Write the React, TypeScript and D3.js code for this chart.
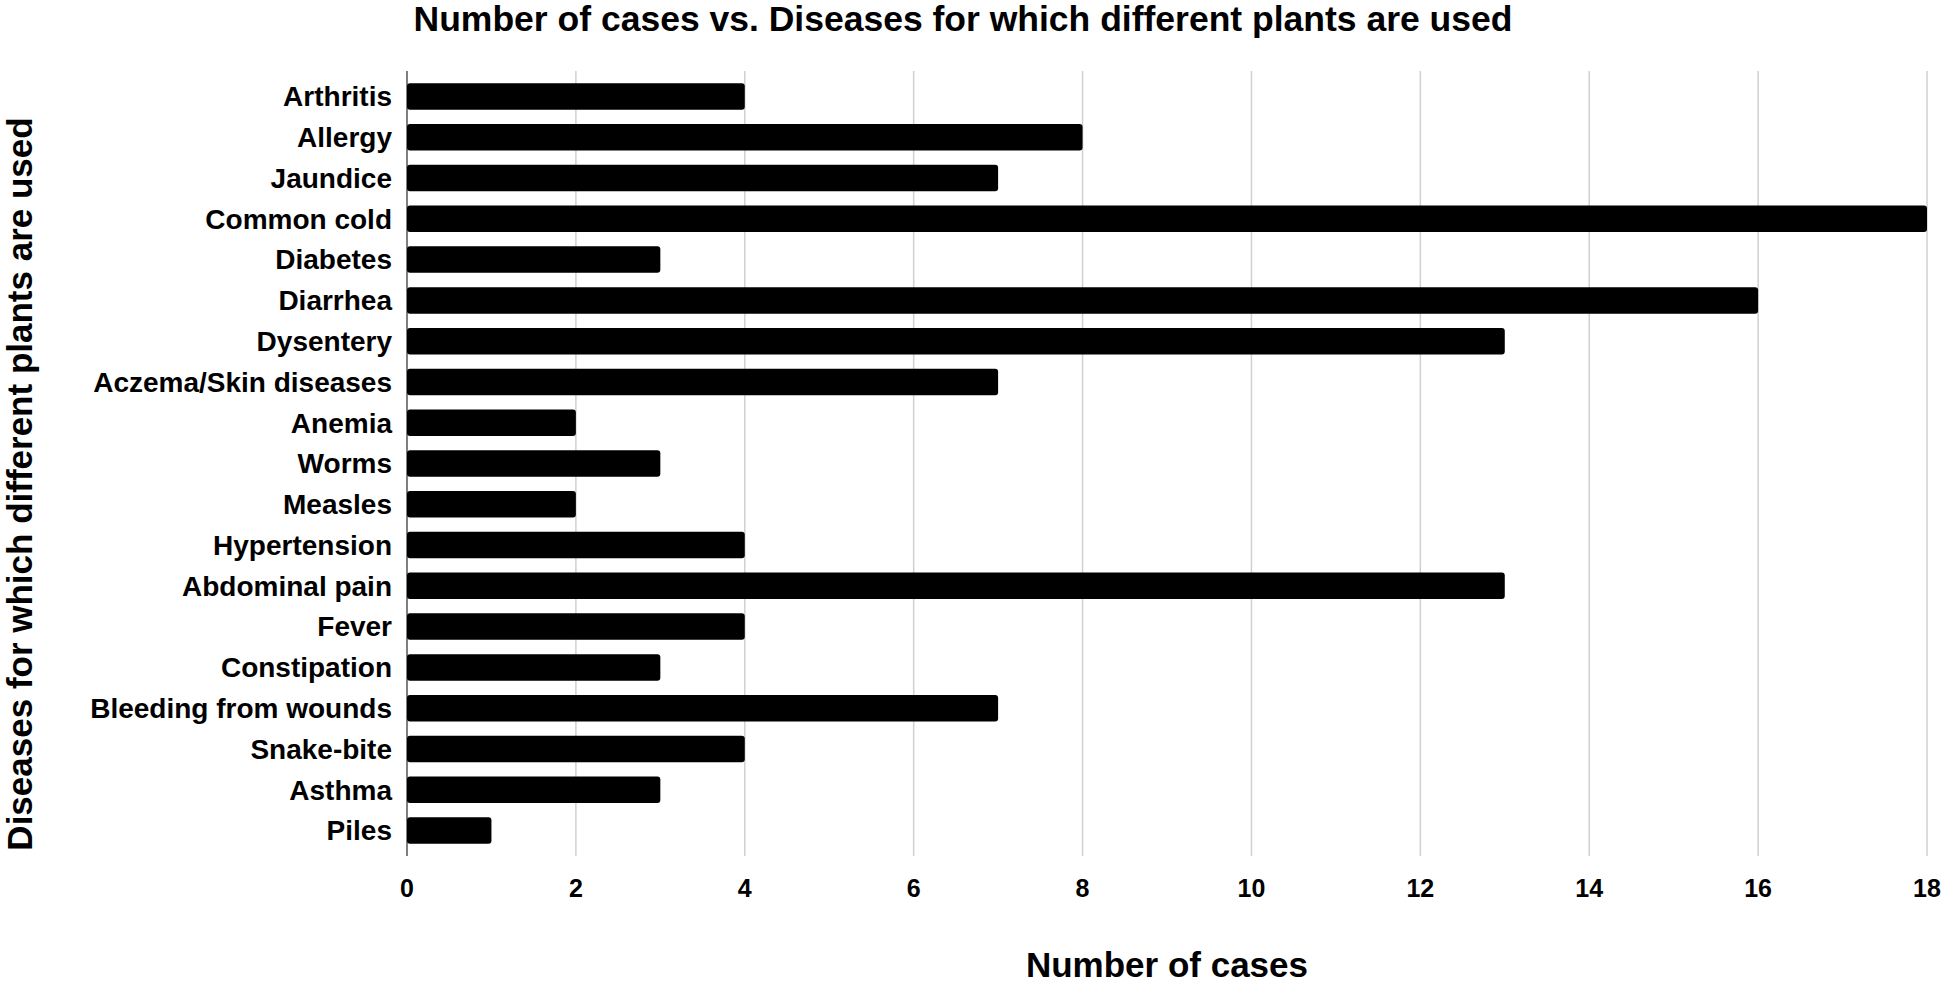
import React from 'react';
import * as d3 from 'd3';

const diseases = [
  'Arthritis', 'Allergy', 'Jaundice', 'Common cold', 'Diabetes', 'Diarrhea', 'Dysentery',
  'Aczema/Skin diseases', 'Anemia', 'Worms', 'Measles', 'Hypertension', 'Abdominal pain',
  'Fever', 'Constipation', 'Bleeding from wounds', 'Snake-bite', 'Asthma', 'Piles',
];
const cases = [4, 8, 7, 18, 3, 16, 13, 7, 2, 3, 2, 4, 13, 4, 3, 7, 4, 3, 1];
const xTicks = [0, 2, 4, 6, 8, 10, 12, 14, 16, 18];

const title = 'Number of cases vs. Diseases for which different plants are used';
const xTitle = 'Number of cases';
const yTitle = 'Diseases for which different plants are used';

const W = 1946;
const H = 984;
const margin = { top: 71, right: 19, bottom: 128, left: 407 };
const font = '"Liberation Sans", Arial, sans-serif';

export default function App() {
  const x = d3.scaleLinear().domain([0, 18]).range([margin.left, W - margin.right]);
  const y = d3.scaleBand<string>()
    .domain(diseases)
    .range([margin.top, H - margin.bottom])
    .paddingInner(0.35)
    .paddingOuter(0.3);

  const y0 = margin.top;
  const y1 = H - margin.bottom;

  return (
    <svg width={W} height={H} style={{ position: 'absolute', left: 0, top: 0, background: '#fff' }}
      fontFamily={font} fontWeight="bold">
      <text x={963} y={19} dy="0.35em" textAnchor="middle" fontSize={35.5} fill="#000">{title}</text>

      {xTicks.filter(t => t > 0).map(t => (
        <line key={t} x1={x(t)} x2={x(t)} y1={y0} y2={y1} stroke="#d0d0d0" strokeWidth={1.5} />
      ))}
      <line x1={x(0)} x2={x(0)} y1={y0} y2={y1} stroke="#555" strokeWidth={1.5} />

      {diseases.map((d, i) => (
        <g key={d}>
          <rect x={x(0)} y={y(d)} width={x(cases[i]) - x(0)} height={y.bandwidth()} rx={3} fill="#000" />
          <text x={x(0) - 15} y={(y(d) ?? 0) + y.bandwidth() / 2} dy="0.35em" textAnchor="end"
            fontSize={28} fill="#000">{d}</text>
        </g>
      ))}

      {xTicks.map(t => (
        <text key={t} x={x(t)} y={888} dy="0.35em" textAnchor="middle" fontSize={25} fill="#000">{t}</text>
      ))}

      <text x={(x(0) + x(18)) / 2} y={965} dy="0.35em" textAnchor="middle" fontSize={35} fill="#000">{xTitle}</text>
      <text transform={`translate(20, 484) rotate(-90)`} dy="0.35em" textAnchor="middle"
        fontSize={35} fill="#000">{yTitle}</text>
    </svg>
  );
}
